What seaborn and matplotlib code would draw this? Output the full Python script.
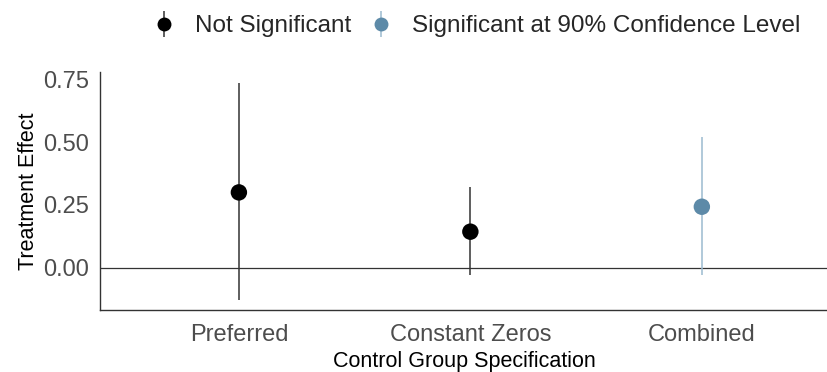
import matplotlib
matplotlib.use("Agg")
import matplotlib.pyplot as plt
import seaborn as sns
import pandas as pd
from matplotlib.lines import Line2D
from matplotlib.legend_handler import HandlerTuple

categories = ["Preferred", "Constant Zeros", "Combined"]
estimates = [0.30, 0.144, 0.243]
ci_low = [-0.127, -0.028, -0.028]
ci_high = [0.734, 0.320, 0.519]
significance = ["Not Significant", "Not Significant", "Significant at 90% Confidence Level"]
y_ticks = [0.00, 0.25, 0.50, 0.75]

palette = {"Not Significant": "#000000",
           "Significant at 90% Confidence Level": "#5D8AA8"}
line_colors = {"Not Significant": "#333333",
               "Significant at 90% Confidence Level": "#9BBBD0"}

df = pd.DataFrame({"spec": categories, "est": estimates, "lo": ci_low,
                   "hi": ci_high, "sig": significance})
df["xpos"] = range(len(df))

sns.set_theme(style="white")
plt.rcParams["font.family"] = ["Liberation Sans", "DejaVu Sans"]

fig = plt.figure(figsize=(8.28, 3.72), dpi=100)
ax = fig.add_axes([100/828, 1-310/372, 1-100/828, (310-72)/372])

ax.axhline(0, color="#333333", lw=0.9, zorder=1)
for _, row in df.iterrows():
    ax.vlines(row["xpos"], row["lo"], row["hi"], color=line_colors[row["sig"]],
              lw=1.1, zorder=2)

sns.scatterplot(data=df, x="xpos", y="est", hue="sig", palette=palette,
                s=140, edgecolor="none", legend=False, ax=ax, zorder=3)

ax.set_xlim(-0.6, 2.545)
ax.set_ylim(-0.167, 0.778)
ax.set_xticks(range(len(categories)))
ax.set_xticklabels(categories)
ax.set_yticks(y_ticks)
ax.set_yticklabels([f"{v:.2f}" for v in y_ticks])
ax.tick_params(axis="both", labelsize=17, labelcolor="#4D4D4D", length=0)
ax.tick_params(axis="x", pad=10)
ax.tick_params(axis="y", pad=8)
ax.set_xlabel("Control Group Specification", fontsize=15.5, color="black", labelpad=4)
ax.set_ylabel("Treatment Effect", fontsize=15.5, color="black", labelpad=3)

for s in ["top", "right"]:
    ax.spines[s].set_visible(False)
for s in ["left", "bottom"]:
    ax.spines[s].set_color("#333333")
    ax.spines[s].set_linewidth(1.0)

handles = []
for k in palette:
    vline = Line2D([0], [0], color=line_colors[k], marker="|", markersize=19,
                   markeredgewidth=1.1, linestyle="none")
    dot = Line2D([0], [0], color=palette[k], marker="o", markersize=10,
                 linestyle="none", markeredgewidth=0)
    handles.append((vline, dot))
fig.legend(handles, list(palette.keys()), loc="center",
           bbox_to_anchor=(475/828, 1-26/372), ncol=2, frameon=False,
           fontsize=17.5, handletextpad=0.7, columnspacing=0.6,
           handlelength=1.2, handler_map={tuple: HandlerTuple(ndivide=1)})

fig.savefig("out.png", dpi=100)
